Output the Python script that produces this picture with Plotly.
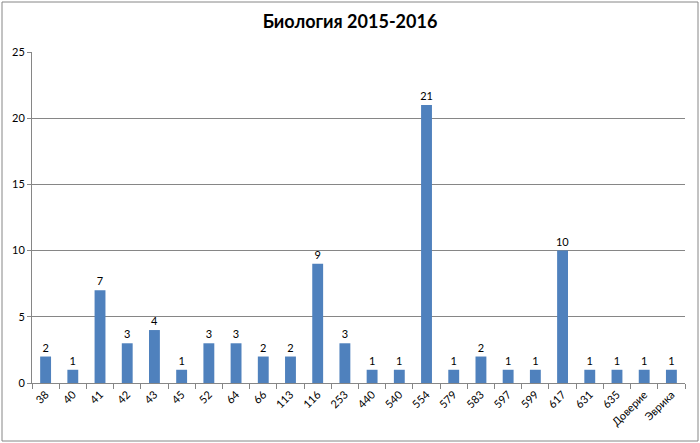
import plotly.graph_objects as go

categories = ["38", "40", "41", "42", "43", "45", "52", "64", "66", "113", "116", "253",
              "440", "540", "554", "579", "583", "597", "599", "617", "631", "635",
              "Доверие", "Эврика"]
values = [2, 1, 7, 3, 4, 1, 3, 3, 2, 2, 9, 3, 1, 1, 21, 1, 2, 1, 1, 10, 1, 1, 1, 1]
title_text = "Биология 2015-2016"
y_ticks = [0, 5, 10, 15, 20, 25]

font_family = "Lato, 'Open Sans', 'DejaVu Sans', sans-serif"

fig = go.Figure(go.Bar(
    x=categories, y=values,
    marker=dict(color="#4F81BD", line=dict(width=0)),
    text=[str(v) for v in values], textposition="outside",
    textfont=dict(size=11, color="#000000", family=font_family),
    constraintext="none",
    cliponaxis=False,
))

fig.update_layout(
    width=700, height=443,
    margin=dict(l=32, r=15, t=52, b=60, autoexpand=False),
    paper_bgcolor="white", plot_bgcolor="white",
    bargap=0.6,
    showlegend=False,
    title=dict(text="<b>" + title_text + "</b>", x=0.5, xanchor="center",
               y=0.95, yanchor="middle", yref="container",
               font=dict(size=18, color="#000000", family=font_family)),
    font=dict(family=font_family, size=11, color="#000000"),
    xaxis=dict(type="category", tickangle=-45, showgrid=False,
               showline=True, linecolor="#868686", linewidth=1,
               ticks="outside", tickson="boundaries", ticklen=5, tickcolor="#868686",
               tickfont=dict(size=11, color="#000000")),
    yaxis=dict(range=[0, 25], tickvals=y_ticks, showgrid=True, gridcolor="#868686",
               gridwidth=1, showline=True, linecolor="#868686", linewidth=1,
               ticks="outside", ticklen=4, tickcolor="#868686", zeroline=False,
               tickfont=dict(size=11, color="#000000")),
    shapes=[dict(type="rect", xref="paper", yref="paper",
                 x0=-30/653, x1=1+13/653, y0=-58/331, y1=1+50/331,
                 line=dict(color="#868686", width=1), layer="below")],
)

fig.write_html("out.html", config={"displayModeBar": False})

with open("out.html", "r", encoding="utf-8") as f:
    html = f.read()
html = html.replace("<body>", '<body style="margin:0;padding:0;">', 1)
html = html.replace("<head>", '<head><style>html,body{margin:0;padding:0;overflow:hidden;}</style>', 1)
with open("out.html", "w", encoding="utf-8") as f:
    f.write(html)
